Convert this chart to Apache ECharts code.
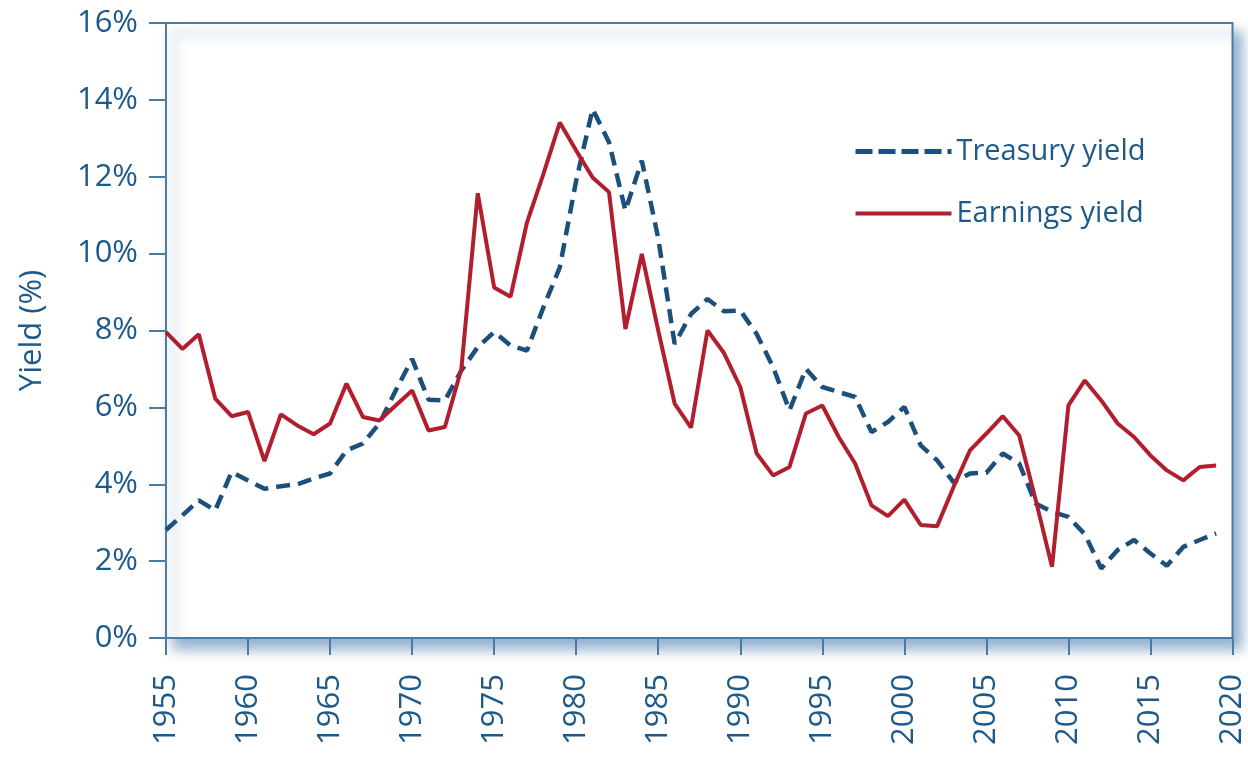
<!DOCTYPE html>
<html>
<head>
<meta charset="utf-8">
<script src="https://cdn.jsdelivr.net/npm/echarts@6/dist/echarts.min.js"></script>
<style>
html,body{margin:0;padding:0;background:#fff;}
#chart{width:1248px;height:757px;}
</style>
</head>
<body>
<div id="chart"></div>
<script>
var years = [];
for (var y = 1955; y <= 2019; y++) years.push(y);

var treasuryYield = [2.81,3.19,3.58,3.32,4.32,4.10,3.88,3.95,4.00,4.15,
  4.28,4.88,5.06,5.58,6.44,7.26,6.20,6.18,6.96,7.57,
  7.96,7.61,7.48,8.60,9.64,11.90,13.76,12.90,11.12,12.42,
  10.40,7.65,8.43,8.82,8.50,8.52,7.91,7.05,5.92,7.00,
  6.53,6.40,6.27,5.36,5.62,6.01,5.01,4.62,4.05,4.28,
  4.30,4.80,4.54,3.50,3.28,3.15,2.70,1.81,2.29,2.55,
  2.20,1.88,2.37,2.55,2.72];

var earningsYield = [7.96,7.52,7.90,6.23,5.77,5.88,4.60,5.82,5.53,5.30,
  5.58,6.62,5.75,5.66,6.05,6.44,5.40,5.49,7.00,11.57,
  9.12,8.88,10.81,12.07,13.41,12.68,11.98,11.60,8.04,9.99,
  8.00,6.10,5.47,8.00,7.42,6.53,4.80,4.23,4.45,5.84,
  6.05,5.23,4.54,3.45,3.17,3.60,2.94,2.91,3.93,4.88,
  5.32,5.77,5.27,3.60,1.85,6.05,6.70,6.18,5.58,5.23,
  4.75,4.36,4.10,4.45,4.49];

var seriesNames = ['Treasury yield', 'Earnings yield'];

function pairs(vals) { return years.map(function (yr, i) { return [yr, vals[i]]; }); }

var textColor = '#1d5a8a';
var axisColor = '#4a7ca3';
var blue = '#1b4f7c';
var red = '#b11f2e';
var font = '"Open Sans", sans-serif';

var chart = echarts.init(document.getElementById('chart'), null, {renderer: 'canvas'});
chart.setOption({
  animation: false,
  backgroundColor: '#ffffff',
  grid: {
    left: 166, right: 13, top: 23, bottom: 119,
    show: true,
    backgroundColor: '#ffffff',
    borderColor: axisColor,
    borderWidth: 2,
    shadowColor: 'rgba(40,100,165,0.5)',
    shadowBlur: 12,
    shadowOffsetX: 8,
    shadowOffsetY: 10
  },
  legend: {
    orient: 'vertical',
    left: 848,
    top: 132,
    itemWidth: 96,
    itemHeight: 14,
    itemGap: 33,
    itemStyle: {opacity: 0},
    data: [
      {name: seriesNames[0], lineStyle: {width: 5, type: [17, 6], color: blue}},
      {name: seriesNames[1], lineStyle: {width: 4, type: 'solid', color: red}}
    ],
    textStyle: {
      color: textColor, fontSize: 29, fontFamily: font
    }
  },
  xAxis: {
    type: 'value',
    min: 1955, max: 2020, interval: 5,
    splitLine: {show: false},
    axisLine: {show: true, onZero: false, lineStyle: {color: axisColor, width: 2}},
    axisTick: {show: true, inside: false, length: 17, lineStyle: {color: axisColor, width: 2}},
    axisLabel: {
      rotate: 90, margin: 36, color: textColor, fontSize: 31, fontFamily: font,
      formatter: function (v) { return String(v); }
    }
  },
  yAxis: {
    type: 'value',
    min: 0, max: 16, interval: 2,
    name: 'Yield (%)',
    nameLocation: 'middle',
    nameGap: 118,
    nameRotate: 90,
    nameTextStyle: {color: textColor, fontSize: 31, fontFamily: font},
    splitLine: {show: false},
    axisLine: {show: true, lineStyle: {color: axisColor, width: 2}},
    axisTick: {show: true, inside: false, length: 17, lineStyle: {color: axisColor, width: 2}},
    axisLabel: {
      margin: 28, color: textColor, fontSize: 31, fontFamily: font,
      formatter: '{value}%'
    }
  },
  series: [
    {
      name: seriesNames[0],
      type: 'line',
      data: pairs(treasuryYield),
      symbol: 'none',
      color: blue,
      lineStyle: {color: blue, width: 4.5, type: [14, 8]},
      z: 2
    },
    {
      name: seriesNames[1],
      type: 'line',
      data: pairs(earningsYield),
      symbol: 'none',
      color: red,
      lineStyle: {color: red, width: 4, type: 'solid'},
      z: 3
    }
  ]
});
</script>
</body>
</html>
